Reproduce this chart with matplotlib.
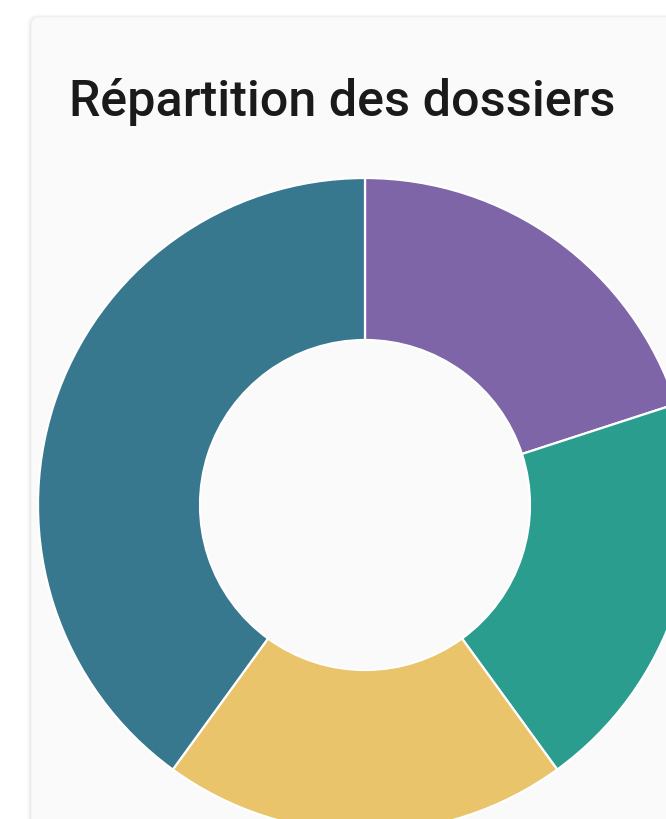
import matplotlib
matplotlib.use("Agg")
import matplotlib.pyplot as plt
from matplotlib.patches import FancyBboxPatch

# Data (clockwise from 12 o'clock)
categories = ["Catégorie A", "Catégorie B", "Catégorie C", "Catégorie D"]
values = [20, 20, 20, 40]
colors = ["#7E65A8", "#2A9D8F", "#E9C46A", "#37788F"]
title = "Répartition des dossiers"

W, H = 666, 819
fig = plt.figure(figsize=(W / 100, H / 100), dpi=100)
fig.patch.set_facecolor("white")
ax = fig.add_axes([0, 0, 1, 1])
ax.set_xlim(0, W)
ax.set_ylim(0, H)
ax.set_aspect("equal")
ax.axis("off")

# card shadow layers
for i, a in enumerate([0.012, 0.018, 0.025, 0.035]):
    d = 4 - i
    sh = FancyBboxPatch((31 - d, -100), 800, H - 17 + 100 + d - 1,
                        boxstyle="round,pad=0,rounding_size=10",
                        facecolor="black", edgecolor="none", alpha=a, zorder=0)
    ax.add_patch(sh)
card = FancyBboxPatch((31, -100), 800, H - 17 + 100,
                      boxstyle="round,pad=0,rounding_size=9",
                      facecolor="#fafafa", edgecolor="#f0f0f0", linewidth=0.6, zorder=1)
ax.add_patch(card)

cx, cy, R = 365, H - 505, 327
wedges, _ = ax.pie(values, colors=colors, startangle=90, counterclock=False,
                   radius=R, center=(cx, cy),
                   wedgeprops=dict(width=R - 165, edgecolor="white", linewidth=1.6))
for w in wedges:
    w.set_zorder(3)
ax.set_xlim(0, W)
ax.set_ylim(0, H)

ax.text(69, H - 116, title, fontsize=36.2, family="Roboto", fontweight="medium",
        color="#1a1a1a", ha="left", va="baseline", zorder=4)

fig.savefig("out.png", dpi=100, facecolor="white")
